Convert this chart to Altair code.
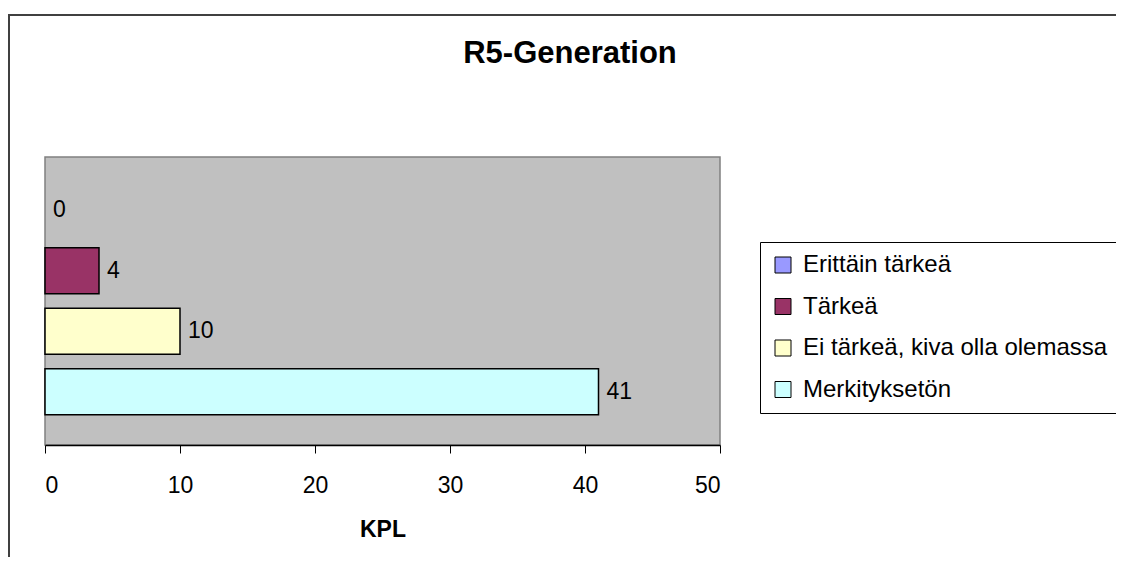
import altair as alt
import pandas as pd

categories = ["Erittäin tärkeä", "Tärkeä", "Ei tärkeä, kiva olla olemassa", "Merkityksetön"]
values = [0, 4, 10, 41]
colors = ["#9999FF", "#993366", "#FFFFCC", "#CCFFFF"]
x_ticks = [0, 10, 20, 30, 40, 50]
chart_title = "R5-Generation"

FONT = "Liberation Sans"

df = pd.DataFrame({"category": categories, "value": values})

yscale = alt.Scale(domain=categories, paddingInner=0.24, paddingOuter=0.5)
xscale = alt.Scale(domain=[0, 50], nice=False)

frame = alt.Chart(pd.DataFrame({"f": [0]})).mark_rect(
    fillOpacity=0, stroke="#404040", strokeWidth=2, clip=False
).encode(
    x=alt.value(-36), x2=alt.value(1300), y=alt.value(-142), y2=alt.value(800)
)

title = alt.Chart(pd.DataFrame({"t": [chart_title]})).mark_text(
    font=FONT, fontSize=31, fontWeight="bold", color="black",
    align="center", baseline="alphabetic", clip=False
).encode(
    x=alt.value(525), y=alt.value(-94), text="t:N"
)

bars = alt.Chart(df).transform_filter("datum.value > 0").mark_bar(
    stroke="black", strokeWidth=1.5
).encode(
    x=alt.X("value:Q", scale=xscale,
            axis=alt.Axis(values=x_ticks, title="KPL", grid=False, tickSize=8,
                          domainColor="black", tickColor="black", domainWidth=1.5,
                          labelFont=FONT, labelFontSize=23, labelColor="black",
                          labelPadding=21, titleFont=FONT, titleFontSize=23,
                          titleFontWeight="bold", titleColor="black", titlePadding=21)),
    y=alt.Y("category:N", scale=yscale, sort=categories, axis=None),
    color=alt.Color("category:N",
                    scale=alt.Scale(domain=categories, range=colors),
                    sort=categories,
                    legend=alt.Legend(orient="none", legendX=715, legendY=85,
                                      title=None, strokeColor="black", fillColor="white",
                                      padding=11, symbolType="square", symbolSize=256,
                                      symbolStrokeColor="black", symbolStrokeWidth=1,
                                      symbolOpacity=1,
                                      labelFont=FONT, labelFontSize=24, labelColor="black",
                                      labelOffset=8, rowPadding=17.5, labelLimit=600)),
)

labels = alt.Chart(df).mark_text(
    align="left", baseline="middle", dx=8, fontSize=23, font=FONT, color="black"
).encode(
    x=alt.X("value:Q", scale=xscale),
    y=alt.Y("category:N", scale=yscale, sort=categories, axis=None),
    text="value:Q",
)

chart = alt.layer(frame, bars, labels, title).properties(
    width=675,
    height=288,
    padding={"left": 37, "top": 149, "right": 396, "bottom": 112},
    autosize=alt.AutoSizeParams(type="none"),
    background="white",
).configure_view(fill="#C0C0C0", stroke="#808080", strokeWidth=1.5)

chart.save("out.html", embed_options={"renderer": "svg", "actions": False})
